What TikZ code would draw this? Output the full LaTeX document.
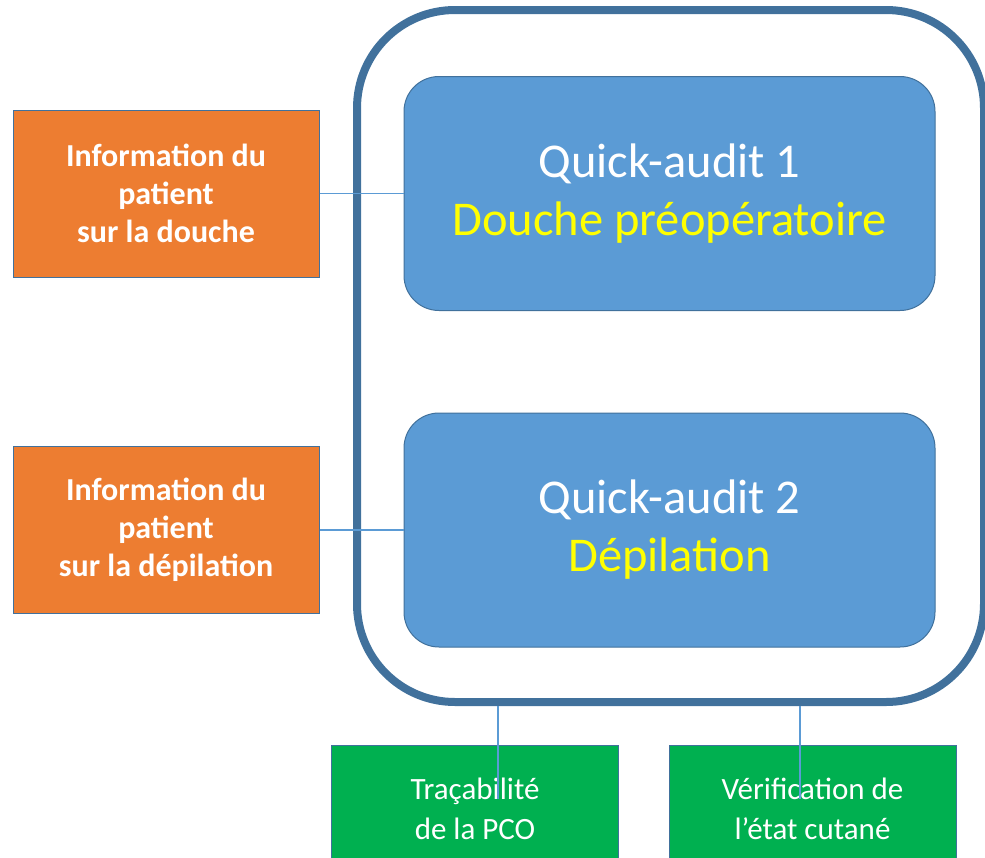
\documentclass[tikz,border=0pt]{standalone}
\usepackage{fontspec}
\setmainfont{Carlito}
\definecolor{edge}{HTML}{41719C}
\definecolor{orng}{HTML}{ED7D31}
\definecolor{blu}{HTML}{5B9BD5}
\definecolor{grn}{HTML}{00B050}
\definecolor{yel}{HTML}{FFFF00}
\begin{document}
\begin{tikzpicture}[x=1pt,y=-1pt,
  orangebox/.style={draw=edge, line width=1pt, fill=orng, minimum width=306pt, minimum height=167pt, inner sep=0pt, align=center, text=white, font=\fontsize{32}{38}\selectfont\bfseries},
  bluebox/.style={draw=edge, line width=1pt, fill=blu, rounded corners=35pt, minimum width=531pt, minimum height=234pt, inner sep=0pt, align=center, text=white, font=\fontsize{48.5}{58}\selectfont},
  greenbox/.style={draw=edge, line width=1pt, fill=grn, minimum width=287pt, minimum height=128pt, inner sep=0pt, align=center, text=white, font=\fontsize{31}{40}\selectfont},
  framebox/.style={draw=edge, line width=8pt, rounded corners=98pt, minimum width=627pt, minimum height=692pt, inner sep=0pt},
  conn/.style={draw=blu, line width=1.5pt}]
\useasboundingbox (0,0) rectangle (985,857);
\clip (0,0) rectangle (985,857);
\node[framebox] (frame) at (670.5,356) {};
\node[orangebox] (o1) at (166,193.5) {Information du\\patient\\sur la douche};
\node[orangebox] (o2) at (166,530) {Information du\\patient\\sur la dépilation};
\node[bluebox] (b1) at (669.5,193.5) {Quick-audit 1\\\textcolor{yel}{Douche préopératoire}};
\node[bluebox] (b2) at (669.5,530) {Quick-audit 2\\\textcolor{yel}{Dépilation}};
\node[greenbox] (g1) at (475,809) {Traçabilité\\de la PCO};
\node[greenbox] (g2) at (812.5,809) {Vérification de\\l’état cutané};
\coordinate (t1) at (498,799);
\coordinate (t2) at (800,799);
\draw[conn] (o1.east) -- (b1.west);
\draw[conn] (o2.east) -- (b2.west);
\draw[conn] (frame.south -| t1) -- (t1);
\draw[conn] (frame.south -| t2) -- (t2);
\end{tikzpicture}
\end{document}
